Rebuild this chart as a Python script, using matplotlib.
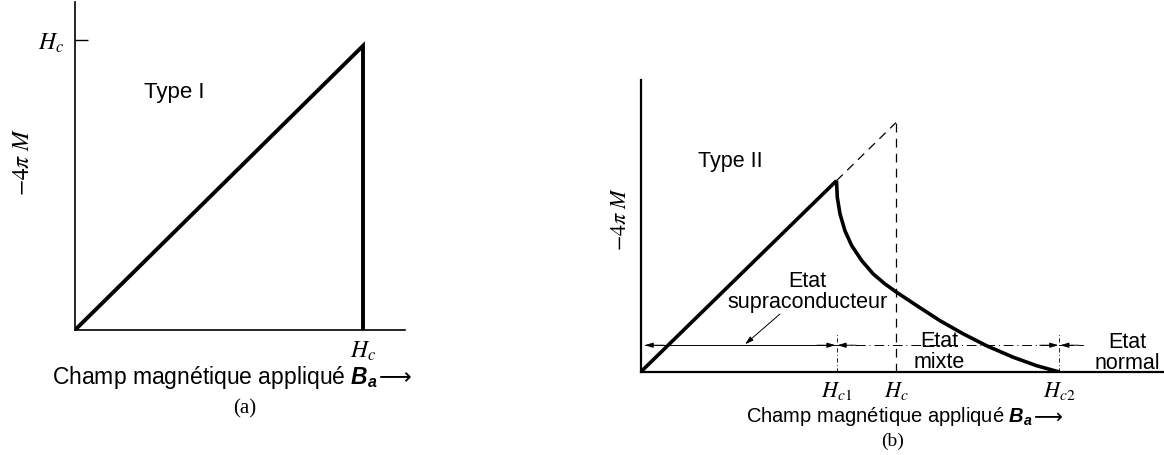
import matplotlib
matplotlib.use("Agg")
import matplotlib.pyplot as plt

plt.rcParams['font.family'] = ['Liberation Sans', 'DejaVu Sans']
plt.rcParams['mathtext.fontset'] = 'custom'
plt.rcParams['mathtext.it'] = 'Liberation Sans:italic:bold'
plt.rcParams['mathtext.rm'] = 'Liberation Sans'

W, H = 1164, 456

# (a) type I superconductor: -4piM rises linearly up to Hc then drops to zero
field_a = [0.0, 1.0, 1.0]
mag_a = [0.0, 0.98, 0.0]

# (b) type II superconductor
Hc1, Hc, Hc2 = 1.0, 1.304, 2.138
field_b_lin = [0.0, Hc1]
mag_b_lin = [0.0, 1.0]
field_b_mix = [1.0, 1.004, 1.018, 1.043, 1.078, 1.129, 1.188, 1.248, 1.307,
               1.410, 1.529, 1.648, 1.767, 1.903, 2.022, 2.138]
mag_b_mix = [1.0, 0.913, 0.826, 0.739, 0.660, 0.582, 0.512, 0.460, 0.417,
             0.347, 0.268, 0.199, 0.137, 0.077, 0.033, 0.0]
field_b_ext = [Hc1, Hc]
mag_b_ext = [1.0, 1.304]
arrow_level = 0.14

state_labels = ["Etat\nsupraconducteur", "Etat\nmixte", "Etat\nnormal"]
state_pos = [(0.853, 0.426), (1.523, 0.108), (2.486, 0.104)]


def pix_axes(fig, x0, y0, x1, y1):
    # axes box given in pixel coordinates (top-left origin)
    return fig.add_axes([x0 / W, 1 - y1 / H, (x1 - x0) / W, (y1 - y0) / H])


def ftext(fig, x, y, s, **kw):
    return fig.text(x / W, 1 - y / H, s, **kw)


def field_label(fig, x, y, size):
    # axis caption followed by a long arrow (arrow drawn as its own text so
    # the glyph falls back to DejaVu Sans)
    t = ftext(fig, x, y, 'Champ magnétique appliqué $B_a$', fontsize=size,
              ha='left', va='center')
    bb = t.get_window_extent(renderer=fig.canvas.get_renderer())
    fig.text(bb.x1 / W + 0.001, 1 - y / H, '⟶', fontsize=size,
             family='DejaVu Sans', ha='left', va='center')


def strip(ax, lw=1.2):
    for side in ['top', 'right']:
        ax.spines[side].set_visible(False)
    for side in ['left', 'bottom']:
        ax.spines[side].set_linewidth(lw)
        ax.spines[side].set_color('black')
    ax.patch.set_alpha(0)


fig = plt.figure(figsize=(W / 100, H / 100), dpi=100)

# ---- panel (a)
ax = pix_axes(fig, 75, 3, 405, 331)
strip(ax)
ax.plot(field_a, mag_a, color='black', lw=2.8, solid_joinstyle='miter',
        solid_capstyle='butt')
ax.set_xlim(0, 330 / 288)
ax.set_ylim(0, 328 / 290)
ax.set_xticks([1.0], ['$H_c$'], math_fontfamily='stix', fontsize=17)
ax.tick_params(axis='x', length=0, pad=6)
ax.set_yticks([1.0], ['$H_c$'], math_fontfamily='stix', fontsize=17)
ax.tick_params(axis='y', direction='in', length=9.5, width=1.0, pad=8)
ax.text(0.344, 0.821, "Type I", fontsize=16, ha='center', va='center')

ftext(fig, 23, 162, r'$-\mathit{4}\pi\ M$', math_fontfamily='stix',
      fontsize=17, rotation=90, ha='center', va='center')
field_label(fig, 52, 378, 16.5)
ftext(fig, 245, 409, '(a)', family='Liberation Serif', fontsize=15,
      ha='center', va='center')

# ---- panel (b)
ax = pix_axes(fig, 640.7, 81, 1164, 373)
strip(ax, lw=1.6)
ax.set_xlim(0, (1164 - 640.7) / 195.8)
ax.set_ylim(0, 292 / 191.3)
ax.plot(field_b_lin, mag_b_lin, color='black', lw=2.6,
        solid_capstyle='butt')
ax.plot(field_b_mix, mag_b_mix, color='black', lw=2.6,
        solid_capstyle='butt', solid_joinstyle='round')
ax.plot(field_b_ext, mag_b_ext, color='black', lw=0.9, ls=(0, (7, 5)))
ax.plot([Hc, Hc], [0, mag_b_ext[-1]], color='black', lw=0.9, ls=(0, (7, 5)))

# thin markers at Hc1 and Hc2
for xv in [Hc1, Hc2]:
    ax.plot([xv, xv], [0, 0.2], color='black', lw=0.6,
            ls=(0, (5, 3, 1, 3)))

# ranges of the three states
ax.plot([0.02, Hc1], [arrow_level] * 2, color='black', lw=0.7)
ax.plot([Hc1, Hc2], [arrow_level] * 2, color='black', lw=0.7,
        ls=(0, (10, 4, 1, 4)))
ax.plot([Hc2, 2.27], [arrow_level] * 2, color='black', lw=0.7,
        ls=(0, (5, 5)))
head = dict(arrowstyle='-|>,head_length=0.5,head_width=0.15',
            color='black', lw=0.7, shrinkA=0, shrinkB=0)
for tip, tail in [(0.02, 0.12), (Hc1 - 0.005, Hc1 - 0.1),
                  (Hc1 + 0.005, Hc1 + 0.1), (Hc2 - 0.005, Hc2 - 0.1),
                  (Hc2 + 0.005, Hc2 + 0.1)]:
    ax.annotate('', xy=(tip, arrow_level), xytext=(tail, arrow_level),
                arrowprops=head)
ax.annotate('', xy=(0.533, arrow_level + 0.005), xytext=(0.711, 0.303),
            arrowprops=head)

for s, (xv, yv) in zip(state_labels, state_pos):
    ax.text(xv, yv, s, fontsize=15.5, ha='center', va='center',
            multialignment='center', linespacing=1.0)
ax.text(0.456, 1.103, "Type II", fontsize=15.5, ha='center', va='center')

ax.set_xticks([Hc1, Hc, Hc2], ['$H_{c1}$', '$H_c$', '$H_{c2}$'],
              math_fontfamily='stix', fontsize=16)
ax.tick_params(axis='x', length=0, pad=5)
ax.set_yticks([])

ftext(fig, 620, 219, r'$-\mathit{4}\pi\ M$', math_fontfamily='stix',
      fontsize=16, rotation=90, ha='center', va='center')
field_label(fig, 746, 417, 14.5)
ftext(fig, 893, 441, '(b)', family='Liberation Serif', fontsize=14,
      ha='center', va='center')

fig.savefig('out.png', dpi=100, facecolor='white')
